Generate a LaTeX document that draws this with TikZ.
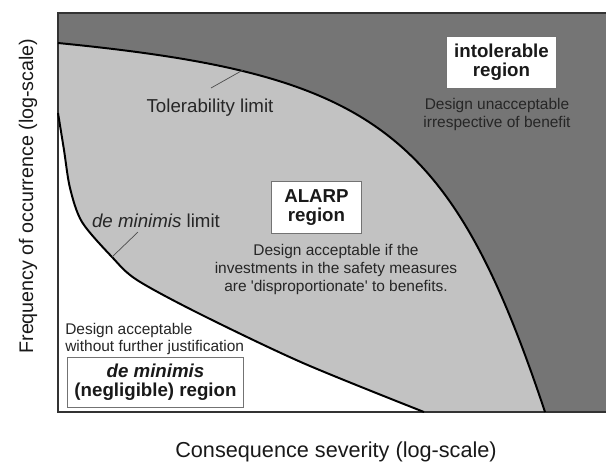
\documentclass[tikz,border=0pt]{standalone}
\usepackage{fontspec}
\setmainfont{Liberation Sans}
\definecolor{darkzone}{gray}{0.46}
\definecolor{lightzone}{gray}{0.76}
\definecolor{boxline}{gray}{0.45}
\tikzset{
  limit/.style={line width=1.4pt, black},
  frame/.style={line width=1.1pt, black!80},
  leader/.style={line width=0.5pt, black!70},
  regionbox/.style={draw=boxline, line width=0.7pt, fill=white, align=center,
    font=\fontsize{13.3}{13.5}\selectfont\bfseries, text=black!90},
  note/.style={align=center, font=\fontsize{11}{12.6}\selectfont, text=black!85, inner sep=0pt},
  lbl/.style={font=\fontsize{13.3}{15}\selectfont, text=black!85, inner sep=0pt},
  axislbl/.style={font=\fontsize{15.4}{18}\selectfont, text=black!90, inner sep=0pt}
}
\begin{document}
\begin{tikzpicture}[x=0.025cm, y=-0.025cm]
                \useasboundingbox (0,0) rectangle (606,462);
                % zones
                \fill[darkzone] (58,13) rectangle (606,412);
                \fill[lightzone] (58,43) .. controls (372,74) and (450,127) .. (545,412)
                    -- (58,412) -- cycle;
                \fill[white] plot[smooth] coordinates {(58,113) (64,150) (70,188) (82,222) (112,257) (137,280) (200,314) (303,363) (424,412)}
                    -- (58,412) -- cycle;
                \draw[frame] (606,13) -- (58,13) -- (58,412) -- (606,412);
                % limits
                \draw[limit] (58,43) .. controls (372,74) and (450,127) .. (545,412);
                \draw[limit] plot[smooth] coordinates {(58,113) (64,150) (70,188) (82,222) (112,257) (137,280) (200,314) (303,363) (424,412)};
                \coordinate (tolpt) at (243,70);
                \coordinate (tolend) at (211,88);
                \coordinate (dmpt) at (112,257);
                \coordinate (dmend) at (138,232);
                \node[lbl, anchor=base] (tollbl) at (210,112) {Tolerability limit};
                \node[lbl, anchor=base] (dmlbl) at (156,227) {\textit{de minimis} limit};
                \draw[leader] (tolpt) -- (tolend);
                \draw[leader] (dmpt) -- (dmend);
                % regions
                \node[regionbox, minimum width=2.73cm, minimum height=1.28cm] (intol) at (501.5,62.5) {intolerable\\region};
                \node[note] (intolnote) at (497,114.5) {Design unacceptable\\irrespective of benefit};
                \node[regionbox, minimum width=2.23cm, minimum height=1.28cm] (alarp) at (316.5,207.5) {ALARP\\region};
                \node[note] (alarpnote) at (336,269.5) {Design acceptable if the\\investments in the safety measures\\are \textquotesingle disproportionate\textquotesingle{} to benefits.};
                \node[note, align=left, anchor=west] (dmnote) at (65,339) {Design acceptable\\without further justification};
                \node[regionbox, minimum width=4.38cm, minimum height=1.25cm] (dmbox) at (155.5,382) {\textit{de minimis}\\(negligible) region};
                % axes
                \node[axislbl, anchor=base] (xlbl) at (336,457) {Consequence severity (log-scale)};
                \node[axislbl, font=\fontsize{14}{16}\selectfont, anchor=base, rotate=90] (ylbl) at (33,196) {Frequency of occurrence (log-scale)};
            \end{tikzpicture}
\end{document}
